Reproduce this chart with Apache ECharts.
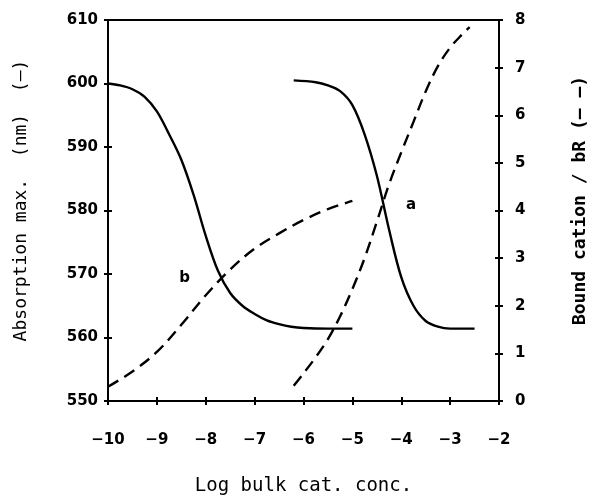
<!DOCTYPE html>
<html>
<head>
<meta charset="utf-8">
<script src="https://cdn.jsdelivr.net/npm/echarts@6/dist/echarts.min.js"></script>
<style>
  html, body { margin: 0; padding: 0; background: #fff; }
  #chart { width: 597px; height: 501px; }
</style>
</head>
<body>
<div id="chart"></div>
<script>
// Log bulk cation concentration vs absorption maximum (solid) and bound cation (dashed)
const xTicks = [-10, -9, -8, -7, -6, -5, -4, -3, -2];

// curve b, absorption maximum (nm)
const absBX = [-10, -9.75, -9.5, -9.25, -9.0, -8.75, -8.5, -8.25, -8.0, -7.75, -7.5, -7.25, -7.0, -6.75, -6.5, -6.25, -6.0, -5.5, -5.0];
const absBY = [600, 599.7, 599.1, 597.9, 595.6, 592, 588, 582.5, 576, 570.5, 567, 565, 563.7, 562.7, 562.1, 561.7, 561.5, 561.4, 561.4];

// curve a, absorption maximum (nm)
const absAX = [-6.2, -5.75, -5.5, -5.25, -5.0, -4.75, -4.5, -4.25, -4.0, -3.75, -3.5, -3.25, -3.0, -2.5];
const absAY = [600.5, 600.2, 599.7, 598.8, 596.6, 592, 585.5, 577, 569.5, 565, 562.6, 561.7, 561.4, 561.4];

// curve b, bound cation / bR
const boundBX = [-10, -9.5, -9.0, -8.5, -8.0, -7.5, -7.0, -6.5, -6.0, -5.5, -5.0];
const boundBY = [0.3, 0.62, 1.03, 1.6, 2.22, 2.76, 3.2, 3.52, 3.8, 4.03, 4.2];

// curve a, bound cation / bR
const boundAX = [-6.2, -6.0, -5.75, -5.5, -5.25, -5.0, -4.75, -4.5, -4.25, -4.0, -3.75, -3.5, -3.25, -3.0, -2.75, -2.6];
const boundAY = [0.32, 0.58, 0.92, 1.3, 1.78, 2.35, 3.0, 3.76, 4.55, 5.22, 5.86, 6.5, 7.03, 7.42, 7.7, 7.85];

// curve tags, in axis units (x, absorption nm)
const tagNames = ['a', 'b'];
const tagX = [-3.8, -8.43];
const tagY = [580.8, 569.4];

const pairs = (xs, ys) => xs.map((x, i) => [x, ys[i]]);
const minus = v => String(v).replace('-', '\u2212');

const ink = '#000';
const tickFont = { color: ink, fontFamily: 'DejaVu Sans', fontWeight: 'bold', fontSize: 15 };
const monoFont = { color: ink, fontFamily: 'DejaVu Sans Mono', fontSize: 18 };
const solid = { color: ink, width: 2.4 };
const dashed = { color: ink, width: 2.4, type: [12, 7] };

const chart = echarts.init(document.getElementById('chart'));
chart.setOption({
  animation: false,
  backgroundColor: '#fff',
  grid: { left: 108, right: 95, top: 20, bottom: 97, show: true, borderColor: ink, borderWidth: 2 },
  xAxis: [
    {
      type: 'value', min: -10, max: -2, interval: 1, position: 'bottom',
      name: 'Log bulk cat. conc.', nameLocation: 'middle', nameGap: 76,
      nameTextStyle: Object.assign({}, monoFont, { fontSize: 19 }),
      axisLine: { lineStyle: { color: ink, width: 2 } },
      axisTick: { inside: false, length: 4, lineStyle: { color: ink, width: 2 } },
      axisLabel: Object.assign({ margin: 32, formatter: minus }, tickFont),
      splitLine: { show: false }
    },
    {
      type: 'value', min: -10, max: -2, interval: 1, position: 'bottom',
      axisLine: { show: false },
      axisTick: { inside: true, length: 4, lineStyle: { color: ink, width: 2 } },
      axisLabel: { show: false }, splitLine: { show: false }
    }
  ],
  yAxis: [
    {
      type: 'value', min: 550, max: 610, interval: 10, position: 'left',
      name: 'Absorption max.  (nm)  (\u2014)', nameLocation: 'middle', nameRotate: 90, nameGap: 78,
      nameTextStyle: Object.assign({}, monoFont, { padding: [0, 0, 0, 20] }),
      axisLine: { show: true, lineStyle: { color: ink, width: 2 } },
      axisTick: { show: true, inside: false, length: 4, lineStyle: { color: ink, width: 2 } },
      axisLabel: Object.assign({ margin: 10 }, tickFont),
      splitLine: { show: false }
    },
    {
      type: 'value', min: 0, max: 8, interval: 1, position: 'right',
      name: 'Bound cation / bR (\u2013 \u2013)', nameLocation: 'middle', nameRotate: 90, nameGap: 72,
      nameTextStyle: Object.assign({}, monoFont, { fontWeight: 'bold', padding: [0, 0, 0, 20] }),
      axisLine: { show: true, lineStyle: { color: ink, width: 2 } },
      axisTick: { show: true, inside: false, length: 4, lineStyle: { color: ink, width: 2 } },
      axisLabel: Object.assign({ margin: 16 }, tickFont),
      splitLine: { show: false }
    },
    {
      type: 'value', min: 550, max: 610, interval: 10, position: 'left',
      axisLine: { show: false },
      axisTick: { show: true, inside: true, length: 4, lineStyle: { color: ink, width: 2 } },
      axisLabel: { show: false }, splitLine: { show: false }
    },
    {
      type: 'value', min: 0, max: 8, interval: 1, position: 'right',
      axisLine: { show: false },
      axisTick: { show: true, inside: true, length: 4, lineStyle: { color: ink, width: 2 } },
      axisLabel: { show: false }, splitLine: { show: false }
    }
  ],
  series: [
    {
      name: 'abs b', type: 'line', xAxisIndex: 0, yAxisIndex: 0, smooth: 0.35,
      showSymbol: false, data: pairs(absBX, absBY), lineStyle: solid
    },
    {
      name: 'abs a', type: 'line', xAxisIndex: 0, yAxisIndex: 0, smooth: 0.35,
      showSymbol: false, data: pairs(absAX, absAY), lineStyle: solid
    },
    {
      name: 'bound b', type: 'line', xAxisIndex: 0, yAxisIndex: 1, smooth: 0.35,
      showSymbol: false, data: pairs(boundBX, boundBY), lineStyle: dashed
    },
    {
      name: 'bound a', type: 'line', xAxisIndex: 0, yAxisIndex: 1, smooth: 0.35,
      showSymbol: false, data: pairs(boundAX, boundAY), lineStyle: dashed
    },
    {
      name: 'tags', type: 'scatter', xAxisIndex: 0, yAxisIndex: 0,
      symbolSize: 1, silent: true, itemStyle: { opacity: 0 },
      data: tagNames.map((n, i) => ({ value: [tagX[i], tagY[i]], name: n })),
      label: {
        show: true, position: 'inside', formatter: p => p.name,
        color: ink, opacity: 1, fontFamily: 'DejaVu Sans', fontWeight: 'bold', fontSize: 15
      }
    }
  ]
});
</script>
</body>
</html>
